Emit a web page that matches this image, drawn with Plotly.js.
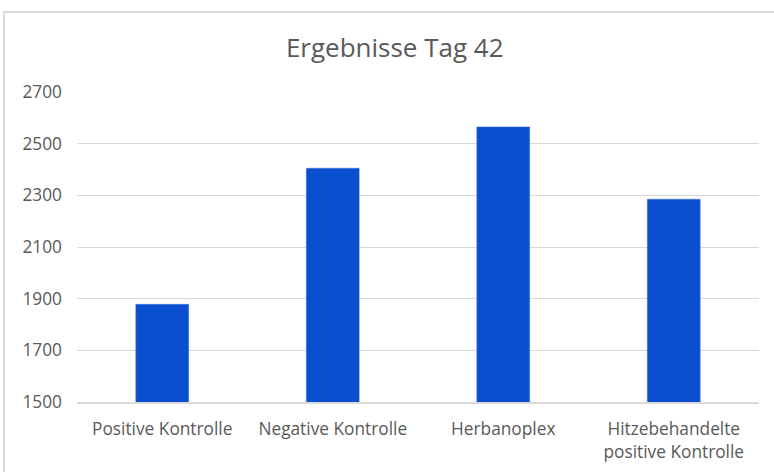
<!DOCTYPE html>
<html>
<head>
<meta charset="utf-8">
<script src="https://cdn.plot.ly/plotly-3.0.1.min.js"></script>
<style>
html,body{margin:0;padding:0;background:#fff;overflow:hidden;}
#frame{position:absolute;left:3px;top:11px;width:800px;height:500px;border:2px solid #d9d9d9;box-sizing:border-box;pointer-events:none;z-index:2;}
#chart{position:absolute;left:0;top:0;width:774px;height:472px;}
</style>
</head>
<body>
<div id="chart"></div>
<div id="frame"></div>
<script>
const categories = ["Positive Kontrolle", "Negative Kontrolle", "Herbanoplex", "Hitzebehandelte<br>positive Kontrolle"];
const values = [1878, 2405, 2565, 2285];
const yTicks = [1500, 1700, 1900, 2100, 2300, 2500, 2700];

const font = "Open Sans, Noto Sans, sans-serif";
Plotly.newPlot("chart", [{
  type: "bar",
  x: categories,
  y: values,
  marker: {color: "#0a4fd0", line: {color: "#3a6fe0", width: 0.5}},
  hoverinfo: "x+y"
}], {
  width: 774, height: 472,
  margin: {l: 77, r: 15, t: 92, b: 70},
  paper_bgcolor: "rgba(0,0,0,0)",
  plot_bgcolor: "rgba(0,0,0,0)",
  bargap: 0.69,
  showlegend: false,
  title: {text: "Ergebnisse Tag 42", font: {family: font, size: 26, color: "#595959"}, x: 0.51, xanchor: "center", y: 0.898, yanchor: "middle"},
  xaxis: {
    tickfont: {family: font, size: 17.3, color: "#595959"},
    showline: true, linecolor: "#d9d9d9", linewidth: 1.5,
    ticks: "", ticklen: 0, showgrid: false, fixedrange: true,
    ticklabelstandoff: 11
  },
  yaxis: {
    range: [1500, 2700],
    tickvals: yTicks,
    ticktext: yTicks.map(String),
    tickfont: {family: font, size: 17.3, color: "#595959"},
    showgrid: true, gridcolor: "#d9d9d9", gridwidth: 1,
    zeroline: false, showline: false, ticks: "", ticklabelstandoff: 14, fixedrange: true
  }
}, {displayModeBar: false, staticPlot: true});
</script>
</body>
</html>
